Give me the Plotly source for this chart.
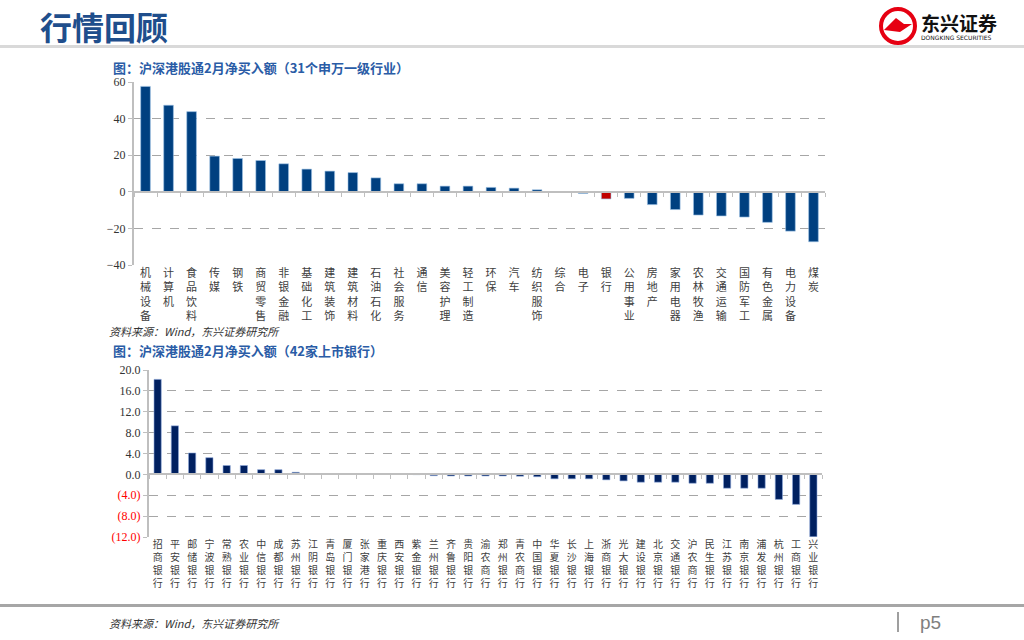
import plotly.graph_objects as go

# ---------------- data ----------------
industries = ["机械设备", "计算机", "食品饮料", "传媒", "钢铁", "商贸零售", "非银金融", "基础化工",
              "建筑装饰", "建筑材料", "石油石化", "社会服务", "通信", "美容护理", "轻工制造", "环保",
              "汽车", "纺织服饰", "综合", "电子", "银行", "公用事业", "房地产", "家用电器",
              "农林牧渔", "交通运输", "国防军工", "有色金属", "电力设备", "煤炭"]
industry_values = [57.6, 47.3, 43.8, 19.5, 18.2, 17.1, 15.3, 12.4, 11.3, 10.5, 7.6, 4.4, 4.4,
                   3.1, 3.1, 2.4, 2.0, 1.1, -0.3, -0.9, -3.9, -3.6, -7.0, -9.7, -12.7, -13.2,
                   -13.8, -16.7, -21.5, -27.3]
highlight_industry = "银行"

banks = ["招商银行", "平安银行", "邮储银行", "宁波银行", "常熟银行", "农业银行", "中信银行", "成都银行",
         "苏州银行", "江阴银行", "青岛银行", "厦门银行", "张家港行", "重庆银行", "西安银行", "紫金银行",
         "兰州银行", "齐鲁银行", "贵阳银行", "渝农商行", "郑州银行", "青农商行", "中国银行", "华夏银行",
         "长沙银行", "上海银行", "浙商银行", "光大银行", "建设银行", "北京银行", "交通银行", "沪农商行",
         "民生银行", "江苏银行", "南京银行", "浦发银行", "杭州银行", "工商银行", "兴业银行"]
bank_values = [18.2, 9.3, 4.1, 3.2, 1.7, 1.7, 0.9, 0.9, 0.4, 0.1, 0.08, 0.06, 0.05, 0.04, 0.02,
               -0.05, -0.25, -0.3, -0.3, -0.3, -0.3, -0.35, -0.45, -0.85, -0.85, -0.85, -1.05,
               -1.25, -1.5, -1.5, -1.5, -1.7, -1.7, -2.65, -2.65, -2.65, -4.8, -5.75, -11.95]

top_ticks = [-40, -20, 0, 20, 40, 60]
top_ticktext = ["−40", "−20", "0", "20", "40", "60"]
bottom_ticks = [-12, -8, -4, 0, 4, 8, 12, 16, 20]
bottom_ticktext = ["(12.0)", "(8.0)", "(4.0)", "0.0", "4.0", "8.0", "12.0", "16.0", "20.0"]

# ---------------- helpers ----------------
W, H = 1024, 640
def px(x):
    return x / W
def py(y):
    return 1 - y / H

def stack(s):
    return "<br>".join(list(s))

TOP_DOM_X = [px(134), px(825)]
TOP_DOM_Y = [py(265), py(82)]
BOT_DOM_X = [px(149), px(822)]
BOT_DOM_Y = [py(537), py(370)]
TOP_RANGE = [-40, 60]
BOT_RANGE = [-12, 20]

top_zero = TOP_DOM_Y[0] + (0 - TOP_RANGE[0]) / (TOP_RANGE[1] - TOP_RANGE[0]) * (TOP_DOM_Y[1] - TOP_DOM_Y[0])
bot_zero = BOT_DOM_Y[0] + (0 - BOT_RANGE[0]) / (BOT_RANGE[1] - BOT_RANGE[0]) * (BOT_DOM_Y[1] - BOT_DOM_Y[0])

BLUE = "#004080"
RED = "#C00000"
NAVY = "#002060"
TITLE_BLUE = "#2A5CA6"
GRID = "#A6A6A6"
AXIS = "#BFBFBF"
CJK = "Noto Sans CJK SC"
SERIF = "Liberation Serif"

fig = go.Figure()

top_colors = [RED if c == highlight_industry else BLUE for c in industries]
fig.add_trace(go.Bar(x=industries, y=industry_values, marker=dict(color=top_colors, line=dict(color="#9DC3E6", width=0.6)),
                     width=0.42, xaxis="x", yaxis="y", showlegend=False))
fig.add_trace(go.Bar(x=industries, y=[0] * len(industries), marker=dict(color="rgba(0,0,0,0)"),
                     xaxis="x2", yaxis="y", showlegend=False, hoverinfo="skip"))

fig.add_trace(go.Bar(x=banks, y=bank_values, marker=dict(color=NAVY, line=dict(color="#8EA9DB", width=0.6)),
                     width=0.42, xaxis="x3", yaxis="y3", showlegend=False))
fig.add_trace(go.Bar(x=banks, y=[0] * len(banks), marker=dict(color="rgba(0,0,0,0)"),
                     xaxis="x4", yaxis="y3", showlegend=False, hoverinfo="skip"))

fig.update_layout(
    template="none",
    width=W, height=H, autosize=False, margin=dict(l=0, r=0, t=0, b=0, pad=0),
    paper_bgcolor="white", plot_bgcolor="white",
    bargap=0.58, showlegend=False,
    font=dict(family=CJK, size=11, color="#333333"),
    xaxis=dict(domain=TOP_DOM_X, anchor="y", type="category", automargin=False,
               tickvals=industries, ticktext=[stack(c) for c in industries],
               tickangle=0, showline=False, showgrid=False, ticks="", zeroline=False,
               tickfont=dict(family=CJK, size=11, color="#404040")),
    xaxis2=dict(domain=TOP_DOM_X, overlaying="x", anchor="free", position=top_zero, automargin=False,
                type="category", showline=True, linecolor=AXIS, linewidth=1.5,
                ticks="outside", ticklen=4, tickcolor=AXIS, tickson="boundaries",
                showticklabels=False, showgrid=False, zeroline=False, matches="x"),
    yaxis=dict(domain=TOP_DOM_Y, anchor="x", range=TOP_RANGE, tickvals=top_ticks, ticktext=top_ticktext,
               automargin=False,
               showgrid=True, gridcolor=GRID, griddash="dash", gridwidth=1,
               zeroline=False, showline=True, linecolor=AXIS, linewidth=2,
               ticks="outside", ticklen=4, tickcolor=AXIS,
               tickfont=dict(family=SERIF, size=12, color="#333333")),
    xaxis3=dict(domain=BOT_DOM_X, anchor="y3", type="category", automargin=False,
                tickvals=banks, ticktext=[stack(c) for c in banks],
                tickangle=0, showline=False, showgrid=False, ticks="", zeroline=False,
                tickfont=dict(family=CJK, size=10, color="#404040")),
    xaxis4=dict(domain=BOT_DOM_X, overlaying="x3", anchor="free", position=bot_zero, automargin=False,
                type="category", showline=True, linecolor=AXIS, linewidth=1.5,
                ticks="outside", ticklen=4, tickcolor=AXIS, tickson="boundaries",
                showticklabels=False, showgrid=False, zeroline=False, matches="x3"),
    yaxis3=dict(domain=BOT_DOM_Y, anchor="x3", range=BOT_RANGE, tickvals=bottom_ticks, automargin=False,
                ticktext=[("<span style='color:#FF0000'>%s</span>" % t) if v < 0 else t
                          for v, t in zip(bottom_ticks, bottom_ticktext)],
                showgrid=True, gridcolor=GRID, griddash="dash", gridwidth=1,
                zeroline=False, showline=True, linecolor=AXIS, linewidth=2,
                ticks="outside", ticklen=4, tickcolor=AXIS,
                tickfont=dict(family=SERIF, size=12, color="#333333")),
)

# ---------------- decorations ----------------
shapes = [
    dict(type="rect", xref="paper", yref="paper", x0=0, x1=1, y0=py(48), y1=py(45),
         fillcolor="#D9D9D9", line=dict(width=0)),
    dict(type="rect", xref="paper", yref="paper", x0=0, x1=1, y0=py(607), y1=py(604),
         fillcolor="#A6A6A6", line=dict(width=0)),
    dict(type="line", xref="paper", yref="paper", x0=px(898), x1=px(898), y0=py(612), y1=py(632),
         line=dict(color="#7F7F7F", width=1.5)),
    # logo
    dict(type="circle", xref="paper", yref="paper", x0=px(881), x1=px(915), y0=py(43), y1=py(9),
         fillcolor="white", line=dict(color="#E60012", width=4)),
    dict(type="path", xref="paper", yref="paper",
         path="M %f %f L %f %f L %f %f L %f %f L %f %f Z" % (px(884), py(30), px(896), py(18), px(904), py(24),
                                                          px(912), py(24), px(900), py(32)),
         fillcolor="#E60012", line=dict(width=0)),
]

annotations = [
    dict(text="<b>行情回顾</b>", x=px(38), y=py(26), xref="paper", yref="paper", xanchor="left", yanchor="middle",
         showarrow=False, font=dict(family=CJK, size=32, color="#1F4E8C")),
    dict(text="<b>东兴证券</b>", x=px(919), y=py(22), xref="paper", yref="paper", xanchor="left", yanchor="middle",
         showarrow=False, font=dict(family=CJK, size=19, color="#111111")),
    dict(text="DONGKING SECURITIES", x=px(919), y=py(38), xref="paper", yref="paper", xanchor="left", yanchor="middle",
         showarrow=False, font=dict(family="DejaVu Sans", size=6, color="#111111")),
    dict(text="<b>图：沪深港股通2月净买入额（31个申万一级行业）</b>", x=px(111), y=py(67), xref="paper", yref="paper",
         xanchor="left", yanchor="middle", showarrow=False, font=dict(family=CJK, size=13, color=TITLE_BLUE)),
    dict(text="<i>资料来源：Wind，东兴证券研究所</i>", x=px(107), y=py(331), xref="paper", yref="paper",
         xanchor="left", yanchor="middle", showarrow=False, font=dict(family=CJK, size=11, color="#333333")),
    dict(text="<b>图：沪深港股通2月净买入额（42家上市银行）</b>", x=px(111), y=py(350), xref="paper", yref="paper",
         xanchor="left", yanchor="middle", showarrow=False, font=dict(family=CJK, size=13, color=TITLE_BLUE)),
    dict(text="<i>资料来源：Wind，东兴证券研究所</i>", x=px(107), y=py(623), xref="paper", yref="paper",
         xanchor="left", yanchor="middle", showarrow=False, font=dict(family=CJK, size=11, color="#333333")),
    dict(text="p5", x=px(918), y=py(622), xref="paper", yref="paper", xanchor="left", yanchor="middle",
         showarrow=False, font=dict(family="Liberation Sans", size=19, color="#7F7F7F")),
]

fig.update_layout(shapes=shapes, annotations=annotations)
fig.write_html("out.html", config={"responsive": False, "displayModeBar": False},
               post_script="document.body.style.margin='0';document.body.style.overflow='hidden';")
